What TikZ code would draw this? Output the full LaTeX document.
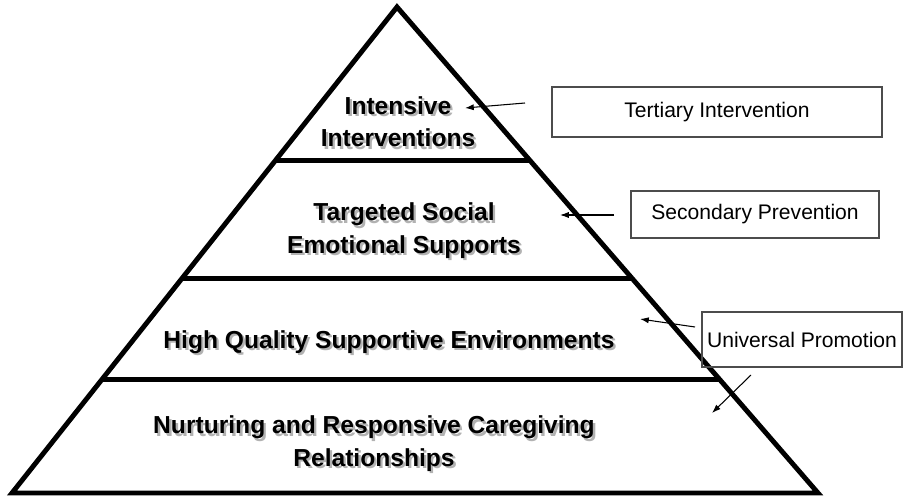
\documentclass[tikz,border=0pt]{standalone}
\usepackage{fontspec}
\setmainfont{Liberation Sans}
\usetikzlibrary{arrows.meta,calc}

\newcommand{\shtxt}[1]{\makebox[0pt][l]{\hspace{1.3pt}\raisebox{-1.3pt}{\textcolor{black!30}{#1}}}#1}

\tikzset{
    tier/.style={align=center, font=\fontsize{14}{18.5}\selectfont\bfseries},
    levelbox/.style={draw=black!70, line width=0.6pt, inner sep=0pt, font=\fontsize{12}{14}\selectfont},
    pointer/.style={-{Latex[length=5pt,width=3.5pt]}, line width=0.6pt}
}

\begin{document}
\begin{tikzpicture}

    \useasboundingbox (0,0) rectangle (18.06,9.98);

    \coordinate (apex) at (7.94,9.84);
    \coordinate (bl) at (0.24,0.12);
    \coordinate (br) at (16.36,0.12);

    \draw[line width=2.8pt] (bl) -- (apex) -- (br) -- cycle;  

    \foreach \t in {0.315,0.558,0.767}
        \draw[line width=2.8pt] ($(apex)!\t!(bl)$) -- ($(apex)!\t!(br)$);  

    \node[tier] (top) at (7.96,7.52) {\shtxt{Intensive}\\\shtxt{Interventions}};
    \node[tier] (second) at (8.08,5.34) {\shtxt{Targeted Social}\\\shtxt{Emotional Supports}};
    \node[tier] (third) at (7.78,3.12) {\shtxt{High Quality Supportive Environments}};
    \node[tier] (bottom) at (7.48,1.08) {\shtxt{Nurturing and Responsive Caregiving}\\\shtxt{Relationships}};

    \node[levelbox, minimum width=6.6cm, minimum height=1.0cm] (tertiary) at (14.34,7.74) {Tertiary Intervention};
    \node[levelbox, minimum width=4.96cm, minimum height=0.94cm] (secondary) at (15.1,5.69) {Secondary Prevention};
    \node[levelbox, minimum width=4.0cm, minimum height=1.1cm] (universal) at (16.04,3.19) {Universal Promotion};

    \coordinate (tertiary tail) at (10.5,7.92);
    \coordinate (tertiary tip) at (9.3,7.82);
    \coordinate (secondary tail) at (12.28,5.68);
    \coordinate (secondary tip) at (11.2,5.68);
    \coordinate (universal tail) at (13.9,3.44);
    \coordinate (universal tip) at (12.8,3.6);
    \coordinate (base tail) at (15.02,2.48);
    \coordinate (base tip) at (14.24,1.72);

    \draw[pointer] (tertiary tail) -- (tertiary tip);  
    \draw[pointer] (secondary tail) -- (secondary tip);  
    \draw[pointer] (universal tail) -- (universal tip);  
    \draw[pointer] (base tail) -- (base tip);  

\end{tikzpicture}
\end{document}
